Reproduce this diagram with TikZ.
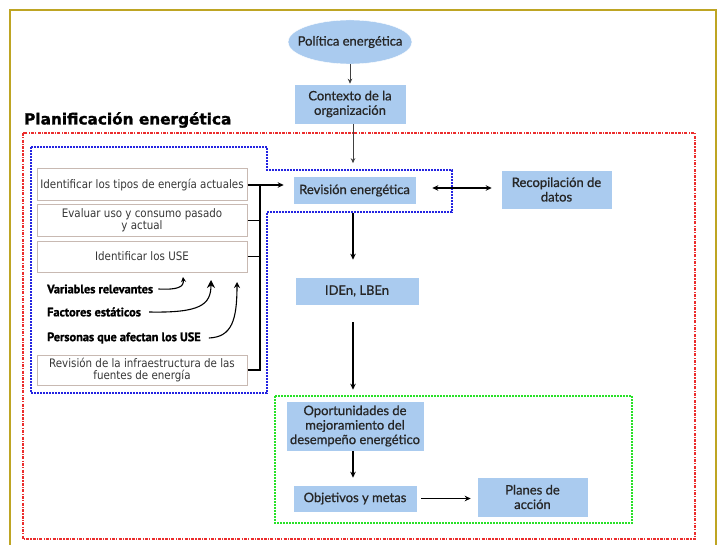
\documentclass[tikz,border=0pt]{standalone}
\usepackage{fontspec}
\setmainfont{Lato}
\newfontfamily\bluefont[FakeBold=0.8]{Lato}
\newfontfamily\boxfont[FakeStretch=0.88]{DejaVu Sans}
\newfontfamily\labfont[FakeBold=1.2]{PT Sans}
\newfontfamily\titlefont[FakeBold=1.5]{DejaVu Sans}
\usetikzlibrary{arrows.meta,shapes.geometric}
\definecolor{bluefill}{RGB}{170,203,239}
\definecolor{frameol}{RGB}{190,165,35}
\definecolor{redd}{RGB}{235,45,45}
\definecolor{blued}{RGB}{35,35,225}
\definecolor{greend}{RGB}{40,225,40}
\definecolor{lbord}{RGB}{200,185,178}
\definecolor{ltext}{RGB}{55,55,55}
\tikzset{
  bluebox/.style={fill=bluefill, draw=white, line width=0.6pt, align=center, inner sep=0pt,
    font=\bluefont\fontsize{13}{14.5}\selectfont, text=black!85},
  leftbox/.style={draw=lbord, fill=white, line width=1pt, minimum width=210pt, align=center,
    inner sep=0pt, font=\boxfont\fontsize{11.7}{12.5}\selectfont, text=ltext},
  lab/.style={anchor=west, inner sep=0pt, font=\labfont\bfseries\fontsize{12.3}{13}\selectfont},
  arr/.style={line width=1.1pt, -{Stealth[length=6pt,width=5.5pt]}},
  thinarr/.style={line width=0.9pt, draw=black!75, -{Stealth[length=5pt,width=4.5pt]}},
  darr/.style={line width=1.1pt, {Stealth[length=6pt,width=5.5pt]}-{Stealth[length=6pt,width=5.5pt]}},
  carr/.style={line width=1.1pt, -{Stealth[length=5pt,width=5pt]}},
}
\begin{document}
\begin{tikzpicture}[x=1pt,y=-1pt]
\useasboundingbox (0,0) rectangle (719,545);
% outer frame
\draw[frameol, line width=1.3pt] (10,546) -- (10,10) -- (716,10) -- (716,546);
% red dashed region
\draw[redd, line width=1.1pt, dash pattern=on 3pt off 1.2pt on 1.2pt off 1.2pt] (23,133) rectangle (695,539);
% blue dotted region
\draw[blued, line width=1.5pt, dash pattern=on 1.6pt off 1.4pt]
  (31,147) -- (267,147) -- (267,170) -- (452,170) -- (452,212) -- (267,212) -- (267,393) -- (31,393) -- cycle;
% green dotted region
\draw[greend, line width=1.3pt, dash pattern=on 1.6pt off 1.4pt] (275,396) rectangle (632,523);

% title
\node[anchor=west, inner sep=0pt, font=\titlefont\bfseries\fontsize{15.3}{17}\selectfont] (title) at (24,120) {Planificación energética};

% blue nodes
\node[ellipse, fill=bluefill, draw=white, minimum width=124pt, minimum height=44pt, inner xsep=-9pt, inner ysep=0pt,
  font=\bluefont\fontsize{13}{14.5}\selectfont, text=black!85] (pol) at (350,42) {Política energética};
\node[bluebox, minimum width=112pt, minimum height=40pt] (ctx) at (350,104) {Contexto de la\\organización};
\node[bluebox, minimum width=123pt, minimum height=28pt] (rev) at (354.5,190.5) {Revisión energética};
\node[bluebox, minimum width=111pt, minimum height=39pt] (rec) at (556.5,189.5) {Recopilación de\\datos};
\node[bluebox, minimum width=124pt, minimum height=28pt] (iden) at (357,291) {IDEn, LBEn};
\node[bluebox, minimum width=138pt, minimum height=50pt] (opo) at (355,426) {Oportunidades de\\mejoramiento del\\desempeño energético};
\node[bluebox, minimum width=124pt, minimum height=27pt] (obj) at (355,498.5) {Objetivos y metas};
\node[bluebox, minimum width=111pt, minimum height=40pt] (pla) at (532.5,497) {Planes de\\acción};

% left boxes
\node[leftbox, minimum height=32pt] (b1) at (142,185) {Identificar los tipos de energía actuales};
\node[leftbox, minimum height=31pt] (b2) at (142,220.5) {Evaluar uso y consumo pasado\\y actual};
\node[leftbox, minimum height=31pt] (b3) at (142,256.5) {Identificar los USE};
\node[leftbox, minimum height=30pt] (b4) at (142,370) {Revisión de la infraestructura de las\\fuentes de energía};

% labels
\node[lab] (l1) at (47,289) {Variables relevantes};
\node[lab] (l2) at (47,312) {Factores estáticos};
\node[lab] (l3) at (47,338) {Personas que afectan los USE};

% bracket
\coordinate (bar) at (260,0);
\draw[line width=1.1pt] (b1.east) -- (b1.east -| bar);
\draw[line width=1.1pt] (b2.east) -- (b2.east -| bar);
\draw[line width=1.1pt] (b3.east) -- (b3.east -| bar);
\draw[line width=2pt] (b4.east) -- (b4.east -| bar);
\draw[line width=1.3pt] (b1.east -| bar) -- ([yshift=-1pt]b4.east -| bar);
\draw[arr, shorten >=9pt] (b1.east -| bar) -- (b1.east -| rev.west);

% main arrows
\draw[thinarr] (pol.south) -- (pol.south |- ctx.north);
\draw[thinarr, shorten >=13pt] (ctx.south -| 353,0) -- (353,0 |- rev.north);
\draw[arr, shorten <=8pt, shorten >=17pt] (rev.south -| 353,0) -- (353,0 |- iden.north);
\draw[arr, shorten <=17pt, shorten >=11pt] (iden.south -| 353,0) -- (353,0 |- opo.north);
\draw[arr, shorten >=7pt] (opo.south -| 353,0) -- (353,0 |- obj.north);
\draw[arr, shorten <=4pt, shorten >=6pt] (obj.east) -- (obj.east -| pla.west);
\draw[darr, shorten <=16pt, shorten >=9pt] (rev.east |- 0,188) -- (rec.west |- 0,188);

% curved arrows
\coordinate (t1) at (183,277);
\coordinate (t2) at (211,280);
\coordinate (t3) at (237,282);
\draw[carr] ([xshift=5pt]l1.east) .. controls (178,290) and (184,287) .. (t1);
\draw[line width=1.1pt, -{Stealth[length=8pt,width=8pt]}] ([xshift=8pt]l2.east) .. controls (200,313) and (211,305) .. (t2);
\draw[carr, -{Stealth[length=6pt,width=6pt]}] ([xshift=8pt]l3.east) .. controls (232,337) and (237,320) .. (t3);
\end{tikzpicture}
\end{document}
